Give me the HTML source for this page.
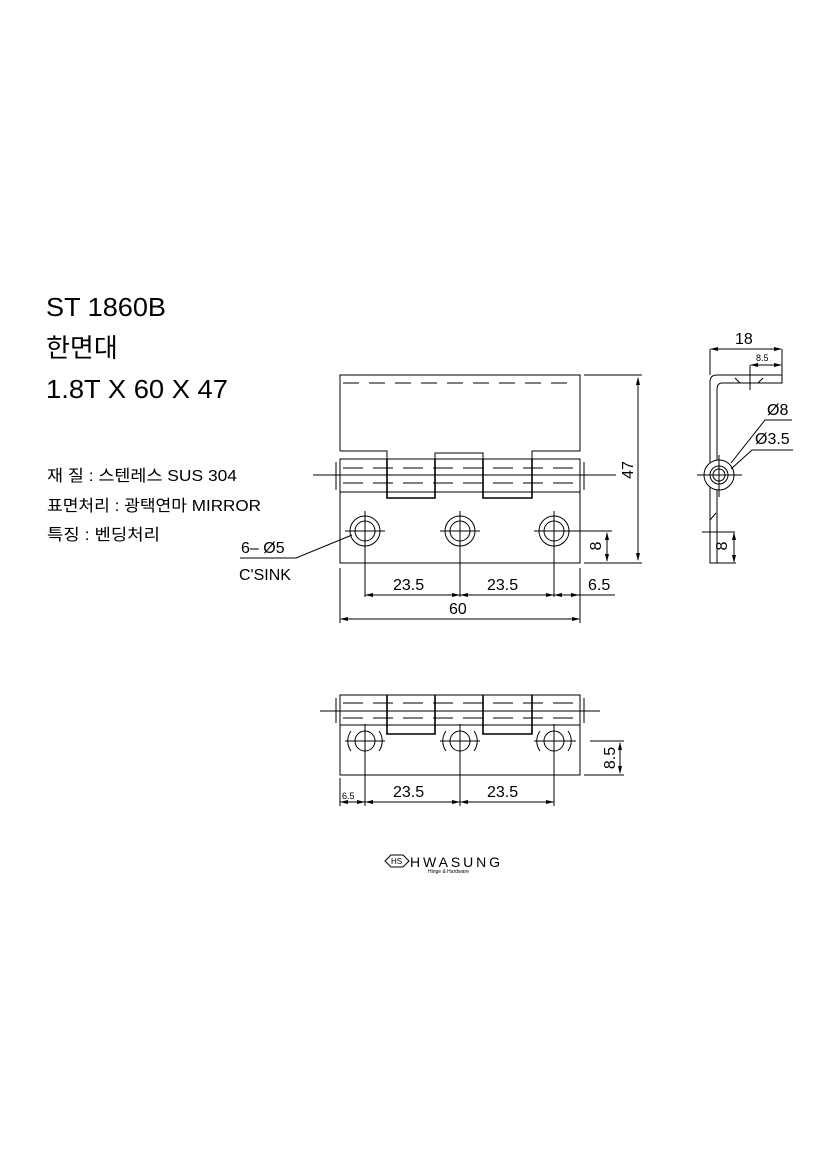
<!DOCTYPE html>
<html><head><meta charset="utf-8"><style>
html,body{margin:0;padding:0;background:#fff}
svg{display:block}
text{font-family:"Liberation Sans","Noto Sans CJK KR",sans-serif;fill:#000}
</style></head><body>
<svg width="827" height="1169" viewBox="0 0 827 1169" xmlns="http://www.w3.org/2000/svg">
<defs>
<marker id="a" markerWidth="8" markerHeight="4" refX="7" refY="2" orient="auto-start-reverse" markerUnits="userSpaceOnUse"><path d="M0,0 L8,2 L0,4z" fill="#000"/></marker>
</defs>
<g font-size="26">
<text x="46" y="316" textLength="120" lengthAdjust="spacingAndGlyphs">ST 1860B</text>
<text x="46" y="357">한면대</text>
<text x="46" y="398" textLength="182" lengthAdjust="spacingAndGlyphs">1.8T X 60 X 47</text>
</g>
<g font-size="16">
<text x="47" y="481" textLength="190" lengthAdjust="spacingAndGlyphs">재 질 : 스텐레스 SUS 304</text>
<text x="47" y="511" textLength="214" lengthAdjust="spacingAndGlyphs">표면처리 : 광택연마 MIRROR</text>
<text x="47" y="540" textLength="113" lengthAdjust="spacingAndGlyphs">특징 : 벤딩처리</text>
<text x="241" y="553">6– Ø5</text>
<text x="239" y="580">C'SINK</text>
</g>
<g stroke="#000" fill="none" stroke-width="1">
<path d="M340,451 V375 H580 V451 H532 V459 M387,459 V451 H340 M435,459 V453 H483 V459"/>
<line x1="343" y1="383" x2="577" y2="383" stroke-dasharray="16,10"/>
<rect x="340" y="459" width="240" height="33"/>
<path d="M340,459 V563 H580 V492"/>
<path d="M387,459 V498 H435 V459 M483,459 V498 H532 V459" stroke-width="1.6"/>
<path d="M336,462 V490 M584,462 V490"/>
<line x1="343" y1="468" x2="578" y2="468" stroke-dasharray="20,10"/>
<line x1="343" y1="483" x2="578" y2="483" stroke-dasharray="20,10"/>
<line x1="313" y1="475" x2="616" y2="475"/>
<circle cx="365" cy="531" r="15"/><circle cx="365" cy="531" r="10"/>
<circle cx="460" cy="531" r="15"/><circle cx="460" cy="531" r="10"/>
<circle cx="554" cy="531" r="15"/><circle cx="554" cy="531" r="10"/>
<path d="M345,531 H385 M365,511 V597 M440,531 H480 M460,511 V597 M534,531 H612 M554,511 V597"/>
<path d="M584,375 H642 M584,563 H642" />
<line x1="638" y1="378" x2="638" y2="560" marker-start="url(#a)" marker-end="url(#a)"/>
<line x1="607" y1="533" x2="607" y2="561" marker-start="url(#a)" marker-end="url(#a)"/>
<path d="M365,595 H615"/>
<line x1="366" y1="595" x2="459" y2="595" marker-start="url(#a)" marker-end="url(#a)"/>
<line x1="461" y1="595" x2="553" y2="595" marker-start="url(#a)" marker-end="url(#a)"/>
<line x1="555" y1="595" x2="578" y2="595" marker-start="url(#a)" marker-end="url(#a)"/>
<path d="M340,568 V623 M580,568 V623"/>
<line x1="341" y1="619" x2="579" y2="619" marker-start="url(#a)" marker-end="url(#a)"/>
<path d="M240,558 H296 L352,535"/>
<rect x="340" y="695" width="240" height="30"/>
<path d="M340,725 V775 H580 V725"/>
<path d="M387,695 V734 H435 V695 M483,695 V734 H532 V695" stroke-width="1.6"/>
<path d="M336,698 V723 M584,698 V723"/>
<line x1="343" y1="703" x2="578" y2="703" stroke-dasharray="20,10"/>
<line x1="343" y1="718" x2="578" y2="718" stroke-dasharray="20,10"/>
<line x1="320" y1="711" x2="600" y2="711"/>
<circle cx="365" cy="741" r="10"/><circle cx="460" cy="741" r="10"/><circle cx="554" cy="741" r="10"/>
<path d="M351,731 A17,17 0 0 0 351,751 M379,731 A17,17 0 0 1 379,751 M446,731 A17,17 0 0 0 446,751 M474,731 A17,17 0 0 1 474,751 M540,731 A17,17 0 0 0 540,751 M568,731 A17,17 0 0 1 568,751"/>
<path d="M345,741 H385 M365,724 V806 M440,741 H480 M460,724 V806 M534,741 H576 M554,724 V806"/>
<path d="M590,741 H624 M584,775 H624"/>
<line x1="620" y1="743" x2="620" y2="773" marker-start="url(#a)" marker-end="url(#a)"/>
<path d="M340,778 V806 M340,802 H554"/>
<line x1="341" y1="802" x2="364" y2="802" marker-start="url(#a)" marker-end="url(#a)"/>
<line x1="366" y1="802" x2="459" y2="802" marker-start="url(#a)" marker-end="url(#a)"/>
<line x1="461" y1="802" x2="553" y2="802" marker-start="url(#a)" marker-end="url(#a)"/>
<path d="M710,563 V382 Q710,375 717,375 H782 V383 H722 Q717,383 717,390 V563 Z"/>
<path d="M710,349 V375 M782,349 V383"/>
<line x1="711" y1="349" x2="781" y2="349" marker-start="url(#a)" marker-end="url(#a)"/>
<line x1="751" y1="365" x2="781" y2="365" marker-start="url(#a)" marker-end="url(#a)"/>
<path d="M750,365 V390 M735,378 L740,383 M763,378 L758,383"/>
<circle cx="719" cy="475" r="15" fill="#fff"/>
<circle cx="719" cy="475" r="9"/><circle cx="719" cy="475" r="6"/>
<path d="M697,475 H742 M719,455 V497"/>
<path d="M731,463 L765,420 H792 M731,469 L752,450 H793"/>
<path d="M702,532 H735 M716,563 H736"/>
<line x1="734" y1="533" x2="734" y2="562" marker-start="url(#a)" marker-end="url(#a)"/>
<path d="M710,520 L716,513"/>
</g>
<g font-size="16">
<text x="393" y="590">23.5</text>
<text x="487" y="590">23.5</text>
<text x="588" y="590">6.5</text>
<text x="449" y="614">60</text>
<text x="393" y="797">23.5</text>
<text x="487" y="797">23.5</text>
<text transform="translate(633,470) rotate(-90)" text-anchor="middle">47</text>
<text transform="translate(601,546) rotate(-90)" text-anchor="middle">8</text>
<text transform="translate(615,758) rotate(-90)" text-anchor="middle">8.5</text>
<text x="735" y="344">18</text>
<text x="767" y="415">Ø8</text>
<text x="755" y="444">Ø3.5</text>
<text transform="translate(727,546) rotate(-90)" text-anchor="middle">8</text>
</g>
<text x="756" y="361" font-size="9">8.5</text>
<text x="342" y="799" font-size="9">6.5</text>
<g stroke="#000" fill="none">
<path d="M385,861 L391,855 H403 L409,861 L403,867 H391 Z"/>
</g>
<text x="391" y="864" font-size="8">HS</text>
<text x="410" y="867" font-size="14" textLength="90" lengthAdjust="spacing">HWASUNG</text>
<text x="428" y="873" font-size="5">Hinge &amp; Hardware</text>
</svg>
</body></html>
